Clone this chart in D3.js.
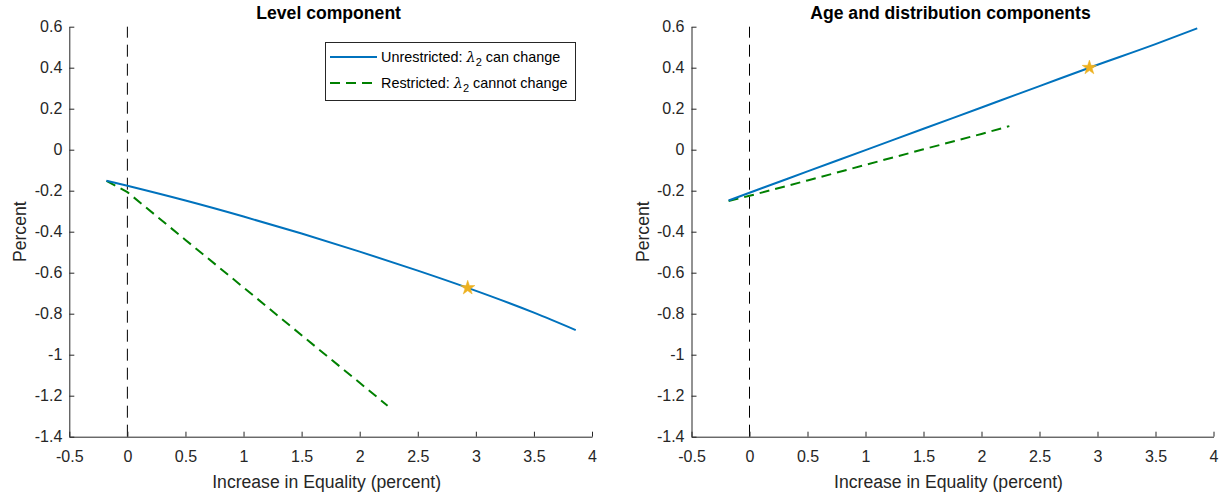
<!DOCTYPE html>
<html>
<head>
<meta charset="utf-8">
<script src="https://cdn.jsdelivr.net/npm/d3@7"></script>
<style>
  html, body { margin: 0; padding: 0; background: #fff; }
  svg { display: block; font-family: "Liberation Sans", Arial, Helvetica, sans-serif; }
</style>
</head>
<body>
<svg id="chart" width="1222" height="493"></svg>
<script>
// Equality increase (percent) on the horizontal axis
const xUnrestricted = [-0.18, 0, 0.5, 1.0, 1.5, 2.0, 2.5, 2.93, 3.5, 3.86];
const xRestricted   = [-0.18, 0, 0.5, 1.0, 1.5, 2.0, 2.24];

// Level component (percent)
const levelUnrestricted = [-0.151, -0.176, -0.248, -0.326, -0.409, -0.497, -0.590, -0.674, -0.795, -0.880];
const levelRestricted   = [-0.152, -0.207, -0.440, -0.672, -0.905, -1.137, -1.249];

// Age and distribution components (percent)
const ageUnrestricted = [-0.248, -0.210, -0.106, -0.002, 0.102, 0.206, 0.310, 0.400, 0.515, 0.592];
const ageRestricted   = [-0.250, -0.225, -0.150, -0.074, 0.002, 0.077, 0.115];

// Highlighted point on each unrestricted curve
const starX = 2.93;
const starLevel = -0.674;
const starAge = 0.400;

const xTicks = [-0.5, 0, 0.5, 1, 1.5, 2, 2.5, 3, 3.5, 4];
const yTicks = [0.6, 0.4, 0.2, 0, -0.2, -0.4, -0.6, -0.8, -1, -1.2, -1.4];

const panelTitles = ["Level component", "Age and distribution components"];
const xLabel = "Increase in Equality (percent)";
const yLabel = "Percent";
const legendLabels = [
  { pre: "Unrestricted: ", post: " can change" },
  { pre: "Restricted: ", post: " cannot change" }
];

const blue = "#0072BD", green = "#008000", gold = "#EDB120", axisColor = "#262626";

const svg = d3.select("#chart");

const panels = [
  { left: 69.3, right: 592, title: panelTitles[0], unres: levelUnrestricted, res: levelRestricted, star: starLevel, legend: true },
  { left: 691.5, right: 1213.5, title: panelTitles[1], unres: ageUnrestricted, res: ageRestricted, star: starAge, legend: false }
];
const plotTop = 26.7, plotBottom = 436.7;

const fmt = d => (d === 0 ? "0" : String(d));

panels.forEach(p => {
  const x = d3.scaleLinear().domain([-0.5, 4]).range([p.left, p.right]);
  const y = d3.scaleLinear().domain([-1.4, 0.6]).range([plotBottom, plotTop]);
  const g = svg.append("g");

  // zero reference line
  g.append("line")
    .attr("x1", x(0)).attr("x2", x(0))
    .attr("y1", y(-1.4)).attr("y2", y(0.6))
    .attr("stroke", "#000").attr("stroke-width", 1)
    .attr("stroke-dasharray", "12,7");

  // axes
  const xAxis = d3.axisBottom(x).tickValues(xTicks).tickFormat(fmt).tickSizeInner(-5).tickSizeOuter(0).tickPadding(14);
  const yAxis = d3.axisLeft(y).tickValues(yTicks).tickFormat(fmt).tickSizeInner(-5).tickSizeOuter(0).tickPadding(7);

  const gx = g.append("g").attr("transform", `translate(0,${plotBottom})`).call(xAxis);
  const gy = g.append("g").attr("transform", `translate(${p.left},0)`).call(yAxis);
  [gx, gy].forEach(a => {
    a.select(".domain").attr("stroke", axisColor);
    a.selectAll(".tick line").attr("stroke", axisColor);
    a.selectAll(".tick text").attr("fill", axisColor).style("font-size", "16px").style("font-family", "Liberation Sans, Arial, sans-serif");
  });

  const line = d3.line().x(d => x(d[0])).y(d => y(d[1]));

  g.append("path")
    .datum(xRestricted.map((v, i) => [v, p.res[i]]))
    .attr("d", line).attr("fill", "none")
    .attr("stroke", green).attr("stroke-width", 2)
    .attr("stroke-dasharray", "10,6");

  g.append("path")
    .datum(xUnrestricted.map((v, i) => [v, p.unres[i]]))
    .attr("d", d3.line().curve(d3.curveMonotoneX).x(d => x(d[0])).y(d => y(d[1])))
    .attr("fill", "none")
    .attr("stroke", blue).attr("stroke-width", 2);

  g.append("path")
    .attr("d", d3.symbol().type(d3.symbolStar).size(65)())
    .attr("transform", `translate(${x(starX)},${y(p.star)})`)
    .attr("fill", gold).attr("stroke", gold).attr("stroke-width", 0.5);

  // title
  const cx = (p.left + p.right) / 2;
  g.append("text").attr("x", cx - 2).attr("y", 19)
    .attr("text-anchor", "middle").attr("font-weight", "bold")
    .attr("font-size", 17.6).attr("fill", "#000").text(p.title);

  // axis labels
  g.append("text").attr("x", cx - 4).attr("y", 488)
    .attr("text-anchor", "middle").attr("font-size", 17.6).attr("fill", axisColor).text(xLabel);
  g.append("text")
    .attr("transform", `translate(${p.left - 43},${(plotTop + plotBottom) / 2}) rotate(-90)`)
    .attr("text-anchor", "middle").attr("font-size", 17.6).attr("fill", axisColor).text(yLabel);

  if (p.legend) {
    const lg = g.append("g");
    lg.append("rect").attr("x", 325.5).attr("y", 42.5).attr("width", 250).attr("height", 58)
      .attr("fill", "#fff").attr("stroke", axisColor).attr("stroke-width", 1);
    const styles = [{ c: blue, dash: null }, { c: green, dash: "10,6" }];
    legendLabels.forEach((lab, i) => {
      const ly = 57 + i * 26;
      lg.append("line").attr("x1", 330).attr("x2", 377).attr("y1", ly).attr("y2", ly)
        .attr("stroke", styles[i].c).attr("stroke-width", 2)
        .attr("stroke-dasharray", styles[i].dash);
      const t = lg.append("text").attr("x", 381).attr("y", ly + 4.5)
        .attr("font-size", 14.4).attr("fill", "#000");
      t.append("tspan").text(lab.pre);
      t.append("tspan").attr("font-family", "DejaVu Serif, serif").attr("font-style", "italic").text("λ");
      t.append("tspan").attr("font-size", 11).attr("dy", 4.5).text("2");
      t.append("tspan").attr("dy", -4.5).text(lab.post);
    });
  }
});
</script>
</body>
</html>
